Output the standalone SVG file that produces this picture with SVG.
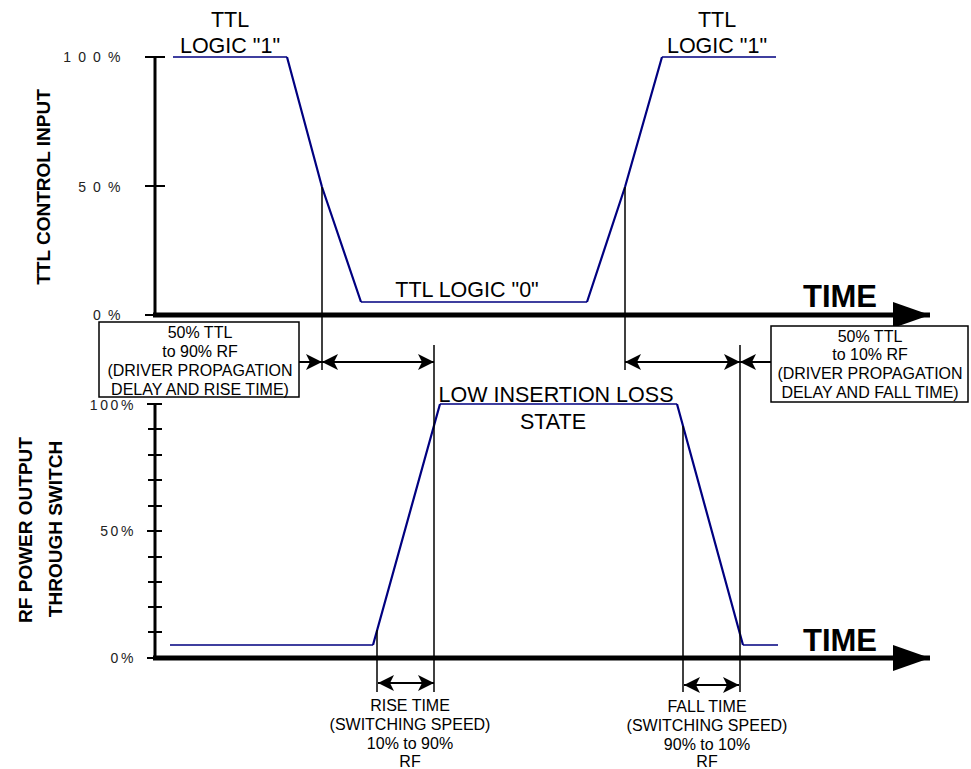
<svg xmlns="http://www.w3.org/2000/svg" width="971" height="769" viewBox="0 0 971 769">
<style>
  text { font-family: "Liberation Sans", Arial, sans-serif; fill: #000; }
  .lbl { font-size: 21.5px; text-anchor: middle; }
  .ax { font-size: 14px; fill: #222; text-anchor: end; }
  .ttl { font-size: 19px; font-weight: bold; text-anchor: middle; }
  .time { font-size: 31px; font-weight: bold; }
  .box { font-size: 16px; text-anchor: middle; }
  .cap { font-size: 16px; text-anchor: middle; }
  .axis { stroke: #000; fill: none; }
  .wave { stroke: #000080; fill: none; stroke-linejoin: round; }
  .thin { stroke: #000; stroke-width: 1.5; fill: none; }
  .arr { stroke: #000; stroke-width: 2; fill: none; marker-end: url(#ah); }
  .darr { stroke: #000; stroke-width: 2; fill: none; marker-start: url(#ah); marker-end: url(#ah); }
</style>
<defs>
  <marker id="ah" viewBox="0 0 16 16" refX="16" refY="8" markerWidth="16" markerHeight="16" markerUnits="userSpaceOnUse" orient="auto-start-reverse">
    <path d="M0,0 L16,8 L0,16 L4,8 z" fill="#000"/>
  </marker>
  <marker id="big" viewBox="0 0 37 26" refX="37" refY="13" markerWidth="37" markerHeight="26" markerUnits="userSpaceOnUse" orient="auto">
    <path d="M0,0 L37,13 L0,26 z" fill="#000"/>
  </marker>
</defs>

<g id="top-chart">
  <line class="axis" x1="155" y1="57" x2="155" y2="315" stroke-width="3"/>
  <line class="axis" x1="145" y1="57" x2="165" y2="57" stroke-width="2"/>
  <line class="axis" x1="145" y1="186" x2="165" y2="186" stroke-width="2"/>
  <line class="axis" x1="145" y1="315" x2="155" y2="315" stroke-width="2"/>
  <line class="axis" x1="153" y1="315" x2="930" y2="315" stroke-width="5" marker-end="url(#big)"/>
  <text class="ax" x="122" y="62" letter-spacing="1.6">1 0 0 %</text>
  <text class="ax" x="122" y="192" letter-spacing="1.6">5 0 %</text>
  <text class="ax" x="122" y="320" letter-spacing="1.6">0 %</text>
  <text class="time" x="803" y="307">TIME</text>
  <text class="ttl" transform="translate(50,187) rotate(-90)">TTL CONTROL INPUT</text>
  <path class="wave" d="M173,57 H287 M361,302 H587 M662,57 H776" stroke-width="1.4"/>
  <path class="wave" d="M287,57 L322,187 L361,302 M587,302 L625,187 L662,57" stroke-width="2.2"/>
  <text class="lbl" x="230" y="27">TTL</text>
  <text class="lbl" x="230" y="53">LOGIC "1"</text>
  <text class="lbl" x="717" y="27">TTL</text>
  <text class="lbl" x="717" y="53">LOGIC "1"</text>
  <text class="lbl" x="467" y="297">TTL LOGIC "0"</text>
</g>

<g id="bottom-chart">
  <line class="axis" x1="155" y1="404" x2="155" y2="658" stroke-width="3"/>
  <g stroke="#000" stroke-width="2">
    <line x1="147" y1="404" x2="162" y2="404"/>
    <line x1="148" y1="429" x2="162" y2="429"/>
    <line x1="148" y1="455" x2="162" y2="455"/>
    <line x1="148" y1="480" x2="162" y2="480"/>
    <line x1="148" y1="506" x2="162" y2="506"/>
    <line x1="147" y1="531" x2="162" y2="531"/>
    <line x1="148" y1="557" x2="162" y2="557"/>
    <line x1="148" y1="582" x2="162" y2="582"/>
    <line x1="148" y1="607" x2="162" y2="607"/>
    <line x1="148" y1="632" x2="162" y2="632"/>
    <line x1="147" y1="658" x2="155" y2="658"/>
  </g>
  <line class="axis" x1="153" y1="658" x2="930" y2="658" stroke-width="5" marker-end="url(#big)"/>
  <text class="ax" x="136" y="410" letter-spacing="2.6">100%</text>
  <text class="ax" x="136" y="536" letter-spacing="2.6">50%</text>
  <text class="ax" x="136" y="663" letter-spacing="2.6">0%</text>
  <text class="time" x="803" y="651">TIME</text>
  <text class="ttl" transform="translate(32,530) rotate(-90)">RF POWER OUTPUT</text>
  <text class="ttl" transform="translate(62,529) rotate(-90)">THROUGH SWITCH</text>
  <path class="wave" d="M170,645 H373 M440,404 H677 M743,645 H778" stroke-width="1.4"/>
  <path class="wave" d="M373,645 L440,404 M677,404 L743,645" stroke-width="2.2"/>
  <text class="lbl" x="556" y="402">LOW INSERTION LOSS</text>
  <text class="lbl" x="553" y="429">STATE</text>
</g>

<g id="connectors">
  <line class="thin" x1="322" y1="187" x2="322" y2="370"/>
  <line class="thin" x1="434" y1="345" x2="434" y2="692"/>
  <line class="thin" x1="625" y1="187" x2="625" y2="370"/>
  <line class="thin" x1="740" y1="345" x2="740" y2="692"/>
  <line class="thin" x1="377" y1="630" x2="377" y2="692"/>
  <line class="thin" x1="683" y1="426" x2="683" y2="692"/>
  <line class="arr" x1="299" y1="362" x2="322" y2="362"/>
  <line class="darr" x1="322" y1="362" x2="434" y2="362"/>
  <line class="darr" x1="625" y1="362" x2="740" y2="362"/>
  <line class="arr" x1="771" y1="362" x2="740" y2="362"/>
  <line class="darr" x1="378" y1="683" x2="434" y2="683"/>
  <line class="darr" x1="684" y1="685" x2="739" y2="685"/>
</g>

<g id="box-rise">
  <rect x="99" y="322" width="200" height="75" fill="#fff" stroke="#000" stroke-width="1.5"/>
  <text class="box" x="200" y="338">50% TTL</text>
  <text class="box" x="200" y="357">to 90% RF</text>
  <text class="box" x="200" y="376">(DRIVER PROPAGATION</text>
  <text class="box" x="200" y="395">DELAY AND RISE TIME)</text>
</g>

<g id="box-fall">
  <rect x="771" y="326" width="197" height="76" fill="#fff" stroke="#000" stroke-width="1.5"/>
  <text class="box" x="870" y="342">50% TTL</text>
  <text class="box" x="870" y="360">to 10% RF</text>
  <text class="box" x="870" y="379">(DRIVER PROPAGATION</text>
  <text class="box" x="870" y="398">DELAY AND FALL TIME)</text>
</g>

<g id="label-rise">
  <text class="cap" x="410" y="711">RISE TIME</text>
  <text class="cap" x="410" y="730">(SWITCHING SPEED)</text>
  <text class="cap" x="410" y="749">10% to 90%</text>
  <text class="cap" x="410" y="767">RF</text>
</g>

<g id="label-fall">
  <text class="cap" x="707" y="712">FALL TIME</text>
  <text class="cap" x="707" y="731">(SWITCHING SPEED)</text>
  <text class="cap" x="707" y="750">90% to 10%</text>
  <text class="cap" x="707" y="767">RF</text>
</g>
</svg>
